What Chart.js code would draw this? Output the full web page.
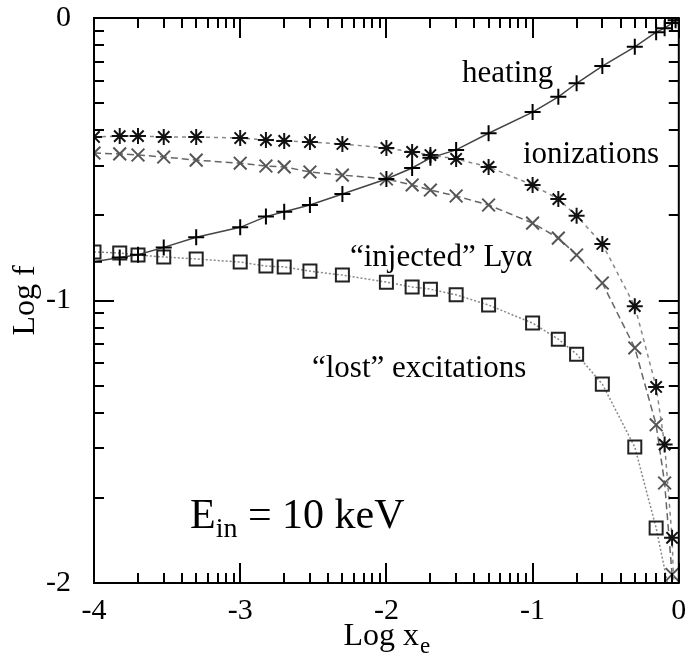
<!DOCTYPE html>
<html>
<head>
<meta charset="utf-8">
<script src="https://cdn.jsdelivr.net/npm/chart.js@4.4.1/dist/chart.umd.min.js"></script>
<style>
  html, body { margin: 0; padding: 0; background: #fff; }
  #wrap { width: 690px; height: 657px; }
</style>
</head>
<body>
<div id="wrap"><canvas id="c"></canvas></div>
<script>
// Log x_e sample points (shared by all curves)
const logXe = [-4, -3.824, -3.699, -3.523, -3.301, -3, -2.824, -2.699, -2.523, -2.301,
  -2, -1.824, -1.699, -1.523, -1.301, -1, -0.824, -0.699, -0.523, -0.301,
  -0.155, -0.097, -0.046, -0.022, 0];

// Log f for each channel (null = not plotted)
const heating = [-0.863, -0.848, -0.838, -0.812, -0.776, -0.741, -0.703, -0.686, -0.662, -0.623,
  -0.570, -0.531, -0.495, -0.467, -0.408, -0.333, -0.279, -0.231, -0.170, -0.102,
  -0.050, -0.036, -0.018, -0.008, 0];
const ionizations = [-0.421, -0.418, -0.418, -0.421, -0.421, -0.425, -0.432, -0.435, -0.439, -0.446,
  -0.460, -0.474, -0.485, -0.499, -0.527, -0.591, -0.641, -0.700, -0.800, -1.02,
  -1.306, -1.51, -1.84, -2.2, null];
const injectedLya = [-0.478, -0.481, -0.485, -0.492, -0.503, -0.514, -0.524, -0.527, -0.545, -0.556,
  -0.570, -0.591, -0.609, -0.630, -0.662, -0.726, -0.779, -0.839, -0.938, -1.168,
  -1.44, -1.646, -1.97, -2.4, null];
const lostExc = [-0.828, -0.832, -0.839, -0.846, -0.853, -0.864, -0.878, -0.881, -0.896, -0.910,
  -0.935, -0.952, -0.960, -0.980, -1.016, -1.080, -1.137, -1.190, -1.296, -1.519,
  -1.805, null, -2.08, null, null];

// axis ticks
const xMajor = [-4, -3, -2, -1, 0];
const yMajor = [-2, -1, 0];
const minorMult = [2, 3, 4, 5, 6, 7, 8, 9];

const SERIF = '"Liberation Serif", "Times New Roman", serif';

const pts = ys => logXe.map((x, i) => ({ x, y: ys[i] }));

function logTicks(majors, forY) {
  const out = majors.map(v => ({ value: v, major: true }));
  majors.slice(0, -1).forEach(m => {
    minorMult.forEach(k => {
      // x: minors above the decade start; y: minors below the decade top
      const v = forY ? m + 1 + Math.log10(k / 10) : m + Math.log10(k);
      out.push({ value: v, major: false });
    });
  });
  return out.sort((a, b) => a.value - b.value);
}

const frame = {
  id: 'frame',
  afterDatasetsDraw(chart) {
    const { ctx, chartArea: a, scales: { x, y } } = chart;
    ctx.save();
    ctx.strokeStyle = '#000';
    ctx.lineWidth = 2;
    ctx.strokeRect(a.left, a.top, a.right - a.left, a.bottom - a.top);
    ctx.beginPath();
    x.ticks.forEach(t => {
      const px = Math.round(x.getPixelForValue(t.value));
      const len = t.major ? 20 : 10;
      ctx.moveTo(px, a.bottom); ctx.lineTo(px, a.bottom - len);
      ctx.moveTo(px, a.top); ctx.lineTo(px, a.top + len);
    });
    y.ticks.forEach(t => {
      const py = Math.round(y.getPixelForValue(t.value));
      const len = t.major ? 20 : 10;
      ctx.moveTo(a.left, py); ctx.lineTo(a.left + len, py);
      ctx.moveTo(a.right, py); ctx.lineTo(a.right - len, py);
    });
    ctx.stroke();

    // curve labels
    ctx.fillStyle = '#000';
    ctx.textBaseline = 'alphabetic';
    ctx.textAlign = 'left';
    ctx.font = '31px ' + SERIF;
    ctx.fillText('heating', 462, 82);
    ctx.fillText('ionizations', 523, 163);
    ctx.fillText('\u201cinjected\u201d Ly\u03b1', 350, 266);
    ctx.fillText('\u201clost\u201d excitations', 312, 377);

    // E_in = 10 keV
    ctx.font = '42px ' + SERIF;
    ctx.fillText('E', 190, 528);
    let w = ctx.measureText('E').width;
    ctx.font = '28px ' + SERIF;
    ctx.fillText('in', 190 + w, 537);
    w += ctx.measureText('in').width;
    ctx.font = '42px ' + SERIF;
    ctx.fillText(' = 10 keV', 190 + w, 528);

    // axis titles
    ctx.font = '32px ' + SERIF;
    const main = 'Log x';
    const mw = ctx.measureText(main).width;
    ctx.font = '23px ' + SERIF;
    const sw = ctx.measureText('e').width;
    const cx = (a.left + a.right) / 2;
    const start = cx - (mw + sw) / 2;
    ctx.font = '32px ' + SERIF;
    ctx.fillText(main, start, 645);
    ctx.font = '23px ' + SERIF;
    ctx.fillText('e', start + mw + 1, 653);

    ctx.translate(34, (a.top + a.bottom) / 2);
    ctx.rotate(-Math.PI / 2);
    ctx.textAlign = 'center';
    ctx.font = '32px ' + SERIF;
    ctx.fillText('Log f', 0, 0);
    ctx.restore();
  }
};

const tickFont = { family: SERIF, size: 30 };
const intLabel = v => (Math.abs(v - Math.round(v)) < 1e-6 ? String(Math.round(v)) : '');

new Chart(document.getElementById('c'), {
  type: 'scatter',
  data: {
    datasets: [
      {
        label: 'heating', data: pts(heating), showLine: true,
        borderColor: '#444', borderWidth: 1.5,
        pointStyle: 'cross', pointRadius: 8, pointBorderColor: '#000', pointBorderWidth: 2,
      },
      {
        label: 'ionizations', data: pts(ionizations), showLine: true, spanGaps: true,
        borderColor: '#888', borderWidth: 1.5, borderDash: [4, 4],
        pointStyle: 'star', pointRadius: 8, pointBorderColor: '#111', pointBorderWidth: 2,
      },
      {
        label: 'injected Lya', data: pts(injectedLya), showLine: true, spanGaps: true,
        borderColor: '#666', borderWidth: 1.5, borderDash: [7, 4],
        pointStyle: 'crossRot', pointRadius: 9, pointBorderColor: '#555', pointBorderWidth: 2,
      },
      {
        label: 'lost excitations', data: pts(lostExc), showLine: true, spanGaps: true,
        borderColor: '#888', borderWidth: 1.5, borderDash: [2, 2],
        pointStyle: 'rect', pointRadius: 9.2, pointBorderColor: '#222', pointBorderWidth: 2,
        pointBackgroundColor: 'rgba(0,0,0,0)',
      },
    ],
  },
  options: {
    responsive: true,
    maintainAspectRatio: false,
    animation: false,
    layout: { padding: { top: 18, right: 11, left: 0, bottom: 0 } },
    plugins: { legend: { display: false }, tooltip: { enabled: false } },
    elements: { line: { tension: 0 } },
    scales: {
      x: {
        type: 'linear', min: -4, max: 0,
        afterBuildTicks: s => { s.ticks = logTicks(xMajor, false); },
        afterFit: s => { s.height = 74; s.paddingLeft = 0; s.paddingRight = 0; },
        grid: { display: false },
        border: { display: false },
        ticks: {
          font: tickFont, color: '#000', padding: 2,
          autoSkip: false, maxRotation: 0, minRotation: 0,
          callback: intLabel,
        },
      },
      y: {
        type: 'linear', min: -2, max: 0,
        afterBuildTicks: s => { s.ticks = logTicks(yMajor, true); },
        afterFit: s => { s.width = 94; s.paddingTop = 0; s.paddingBottom = 0; },
        grid: { display: false },
        border: { display: false },
        ticks: {
          font: tickFont, color: '#000', padding: 15,
          autoSkip: false, callback: intLabel,
        },
      },
    },
  },
  plugins: [frame],
});
</script>
</body>
</html>
